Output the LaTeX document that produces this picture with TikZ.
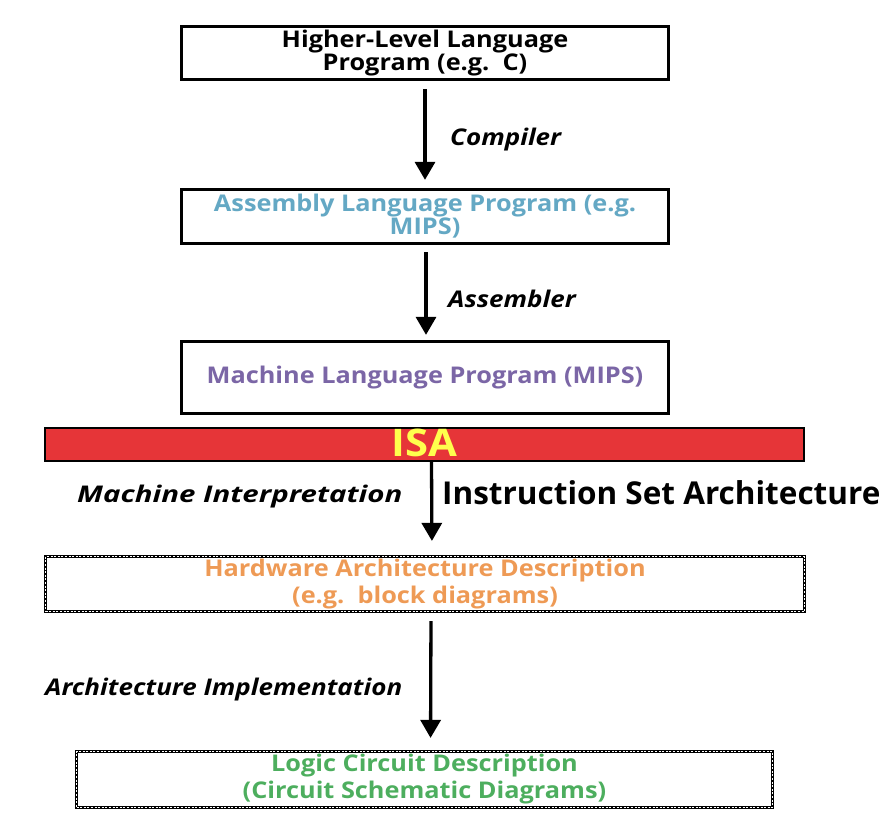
\documentclass[tikz,border=0pt]{standalone}
\usepackage{fontspec}
\setmainfont{Open Sans}
\newfontfamily\boxfont[FakeStretch=1.1]{Open Sans}
\newfontfamily\labfont[FakeStretch=1.13]{Open Sans}
\newfontfamily\milabfont[FakeStretch=1.28]{Open Sans}
\usetikzlibrary{arrows.meta}
\definecolor{asmblue}{HTML}{64A8C4}
\definecolor{mlpurple}{HTML}{7B66A6}
\definecolor{hworange}{HTML}{EE9A55}
\definecolor{lcgreen}{HTML}{4DAE5E}
\definecolor{isared}{HTML}{E63538}
\definecolor{isayellow}{HTML}{FFFF4D}
\tikzset{
  solidbox/.style={draw=black, line width=3.3pt, fill=white, inner sep=0pt, align=center,
    font=\boxfont\bfseries\fontsize{23}{23}\selectfont},
  chainbox/.style={draw=black, line width=3.2pt, inner sep=0pt, align=center,
    font=\boxfont\bfseries\fontsize{23}{27}\selectfont,
    postaction={draw=white, line width=1pt, dash pattern=on 2pt off 1.6pt}},
  flow/.style={-{Triangle[length=18pt,width=20pt]}, line width=3.3pt},
  steplabel/.style={font=\labfont\bfseries\itshape\fontsize{23}{23}\selectfont, inner sep=0pt},
}
\begin{document}
\begin{tikzpicture}[x=1pt,y=-1pt]
\useasboundingbox (0,0) rectangle (890,828);
\node[solidbox, minimum width=487pt, minimum height=53pt] (hll) at (425,53) {Higher-Level Language\\Program (e.g.\ \ C)};
\node[solidbox, minimum width=487pt, minimum height=54pt, text=asmblue] (asm) at (425,216.5) {Assembly Language Program (e.g.\\MIPS)};
\node[solidbox, minimum width=487pt, minimum height=72pt, text=mlpurple] (ml) at (425,377.5) {Machine Language Program (MIPS)};
\node[draw=black, line width=2pt, fill=isared, minimum width=759pt, minimum height=33pt, inner sep=0pt,
  text=isayellow, font=\boxfont\bfseries\fontsize{38}{38}\selectfont] (isa) at (424.5,444.5) {\raisebox{3pt}{ISA}};
\node[chainbox, minimum width=759pt, minimum height=55pt, text=hworange] (hw) at (425,584) {Hardware Architecture Description\\(e.g.\ \ block diagrams)};
\node[chainbox, minimum width=696pt, minimum height=56pt, text=lcgreen] (lc) at (424.5,779.5) {Logic Circuit Description\\(Circuit Schematic Diagrams)};

\draw[flow, shorten <=8pt, shorten >=8pt] (hll.south) -- (asm.north);
\draw[flow, shorten <=7pt, shorten >=5pt] ([xshift=1pt]asm.south) -- ([xshift=1pt]ml.north);
\draw[flow, shorten >=14pt] ([xshift=7pt]isa.south) -- ([xshift=7pt]hw.north);
\draw[flow, shorten <=8pt, shorten >=12pt] ([xshift=6pt]hw.south) -- ([xshift=6pt]lc.north);

\node[steplabel, anchor=west] (comp) at (450,140) {Compiler};
\node[steplabel, anchor=west] (asmr) at (448,299) {Assembler};
\node[steplabel, anchor=west, font=\milabfont\bfseries\itshape\fontsize{23}{23}\selectfont] (mi) at (77,497) {Machine Interpretation};
\node[inner sep=0pt, anchor=west, font=\bfseries\fontsize{31.5}{32}\selectfont] (isalong) at (442,493) {Instruction Set Architecture};
\node[steplabel, anchor=west] (ai) at (45,690) {Architecture Implementation};
\end{tikzpicture}
\end{document}
